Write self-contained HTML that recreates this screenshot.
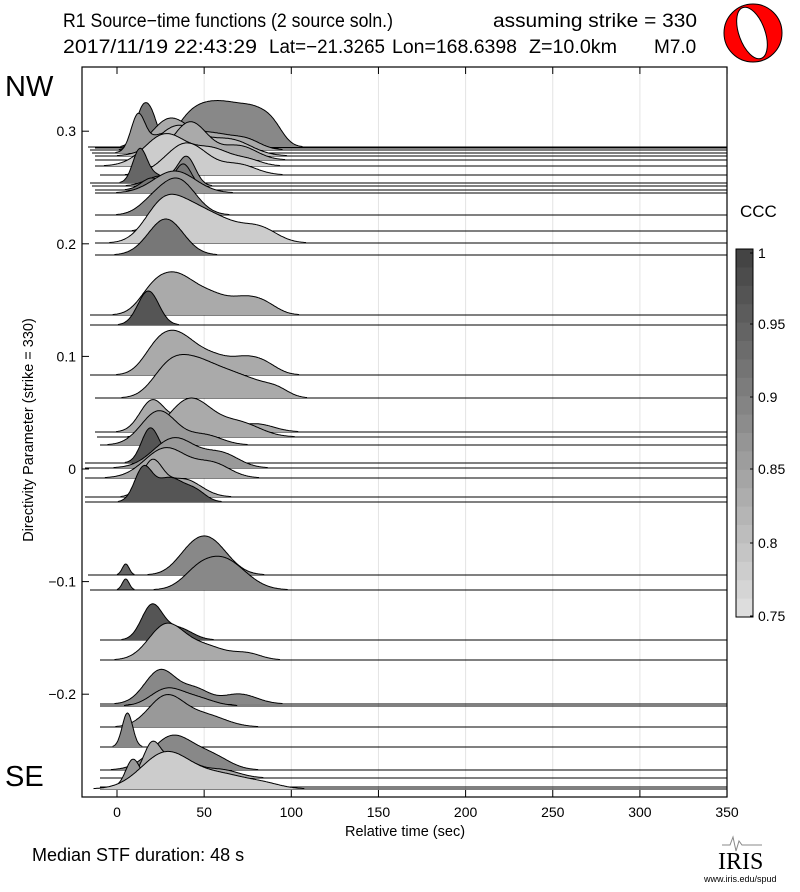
<!DOCTYPE html>
<html><head><meta charset="utf-8"><style>
body{margin:0;background:#fff;width:800px;height:887px;overflow:hidden}
svg{font-family:"Liberation Sans",sans-serif}
</style></head><body>
<svg id="s" width="800" height="887" xmlns="http://www.w3.org/2000/svg">
<g font-size="19">
<text x="63" y="27" textLength="330" lengthAdjust="spacingAndGlyphs">R1 Source−time functions (2 source soln.)</text>
<text x="493" y="27" textLength="204" lengthAdjust="spacingAndGlyphs">assuming strike = 330</text>
<text x="63" y="53" textLength="194" lengthAdjust="spacingAndGlyphs">2017/11/19 22:43:29</text>
<text x="269" y="53" textLength="116" lengthAdjust="spacingAndGlyphs">Lat=−21.3265</text>
<text x="392" y="53" textLength="125" lengthAdjust="spacingAndGlyphs">Lon=168.6398</text>
<text x="529" y="53" textLength="88" lengthAdjust="spacingAndGlyphs">Z=10.0km</text>
<text x="654" y="53">M7.0</text>
</g>
<circle cx="753" cy="33" r="29" fill="#f00" stroke="#000" stroke-width="1"/>
<ellipse cx="752" cy="33" rx="13" ry="27" transform="rotate(-20 752 33)" fill="#fff" stroke="#000" stroke-width="1"/>
<text x="5" y="96" font-size="29">NW</text>
<text x="5" y="786" font-size="29">SE</text>
<g id="grid"></g>
<g id="tr"></g>
<rect x="82" y="67" width="645" height="730" fill="none" stroke="#000" stroke-width="1.2"/>
<g id="ax" font-size="14"></g>
<text x="405" y="836" font-size="14.5" text-anchor="middle">Relative time (sec)</text>
<text transform="translate(33,430) rotate(-90)" font-size="14.5" text-anchor="middle">Directivity Parameter (strike = 330)</text>
<text x="740" y="217" font-size="17">CCC</text>
<g id="cb"></g>
<text x="32" y="861" font-size="18">Median STF duration: 48 s</text>
<text x="718" y="869" font-size="24" font-family="Liberation Serif,serif">IRIS</text>
<path d="M722 845 l8 0 l3 -8 l3 14 l3 -10 l3 4 l20 0" stroke="#888" fill="none" stroke-width="1"/>
<text x="704" y="882" font-size="9">www.iris.edu/spud</text>
</svg>
<script>
const NS="http://www.w3.org/2000/svg";
function el(p,t,a,txt){const e=document.createElementNS(NS,t);for(const k in a)e.setAttribute(k,a[k]);if(txt!==undefined)e.textContent=txt;p.appendChild(e);return e;}
const X=t=>117+t*1.743, Y=v=>469-v*1126;
const g=document.getElementById('grid'),ax=document.getElementById('ax');
for(let t=50;t<=300;t+=50)el(g,'line',{x1:X(t),x2:X(t),y1:67,y2:797,stroke:'#e4e4e4'});
for(let t=0;t<=350;t+=50){el(ax,'line',{x1:X(t),x2:X(t),y1:797,y2:790,stroke:'#000'});el(ax,'line',{x1:X(t),x2:X(t),y1:67,y2:74,stroke:'#000'});el(ax,'text',{x:X(t),y:817,'text-anchor':'middle'},t);}
[[0.3,'0.3'],[0.2,'0.2'],[0.1,'0.1'],[0,'0'],[-0.1,'−0.1'],[-0.2,'−0.2']].forEach(([v,s])=>{el(ax,'line',{x1:82,x2:89,y1:Y(v),y2:Y(v),stroke:'#000'});el(ax,'text',{x:76,y:Y(v)+5,'text-anchor':'end'},s);});
const T=[
[147,'#888',88,[[40,8,20],[52,9,30],[66,9,30],[80,8,28],[90,6,14],[12,4,12]]],
[148,'#777',95,[[14,4,32],[20,4,28]]],
[150,'#aaa',90,[[30,10,30],[55,12,16],[75,8,8]]],
[153,'#999',92,[[12,4,34],[28,10,20]]],
[156,'#bbb',95,[[35,12,30],[65,12,16]]],
[160,'#aaa',95,[[42,10,38],[70,10,14]]],
[166,'#ccc',95,[[28,12,32],[55,10,16],[75,8,6]]],
[175,'#ccc',100,[[40,12,32],[70,10,10]]],
[183,'#666',90,[[13,4,32],[22,6,8]]],
[186,'#888',92,[[40,5,28],[25,8,10]]],
[190,'#777',95,[[38,5,26],[20,6,12]]],
[193,'#999',95,[[33,12,22]]],
[215,'#888',95,[[35,10,35],[20,8,10]]],
[231,'#999',95,[[26,6,28],[40,8,10]]],
[243,'#ccc',95,[[25,10,30],[40,12,30],[60,12,18],[82,10,14]]],
[255,'#777',95,[[28,10,36]]],
[315,'#aaa',90,[[20,8,20],[32,9,28],[45,10,20],[58,8,10],[72,8,13],[84,8,11]]],
[325,'#555',90,[[18,6,34]]],
[375,'#aaa',90,[[22,8,20],[33,9,28],[45,10,18],[58,8,10],[72,8,13],[84,8,11]]],
[398,'#aaa',95,[[28,9,22],[40,10,26],[54,10,22],[66,8,10],[78,9,14],[92,7,8]]],
[432,'#aaa',95,[[20,7,30],[45,12,20],[80,10,8]]],
[437,'#aaa',97,[[42,12,38],[70,12,14]]],
[445,'#999',100,[[24,10,34],[50,10,10]]],
[463,'#555',85,[[19,5,34],[30,6,6]]],
[468,'#999',85,[[33,12,30],[60,10,14]]],
[478,'#aaa',85,[[28,12,30],[55,10,14]]],
[497,'#aaa',85,[[20,6,34],[38,10,18]]],
[502,'#555',85,[[15,5,32],[30,8,24],[45,6,10]]],
[575,'#666',88,[[5,2,11]]],
[575,'#888',88,[[52,11,36],[40,8,8]]],
[590,'#666',90,[[5,2,11]]],
[590,'#888',90,[[60,13,32],[45,8,8]]],
[640,'#555',100,[[20,6,34],[35,8,12]]],
[660,'#aaa',100,[[28,10,34],[50,12,14],[75,8,6]]],
[704,'#888',100,[[25,9,34],[45,8,14],[70,10,10]]],
[706,'#999',100,[[28,9,16],[45,10,8]]],
[727,'#999',100,[[28,10,30],[50,12,12]]],
[747,'#888',100,[[6,3,34]]],
[770,'#888',100,[[32,12,34],[55,10,12]]],
[778,'#aaa',100,[[20,5,30],[35,10,20],[60,10,8]]],
[787,'#999',100,[[9,4,25],[25,10,10]]],
[789,'#ccc',100,[[28,14,36],[60,15,14],[85,10,4]]]
];
const tr=document.getElementById('tr');
T.forEach(([b,c,sx,cs])=>{
 el(tr,'line',{x1:sx,x2:727,y1:b,y2:b,stroke:'#000','stroke-width':1});
 let pts=[];
 for(let t=-15;t<=150;t+=0.5){let h=0;cs.forEach(([m,s,a])=>{h+=a*Math.exp(-0.5*((t-m)/s)**2)});
  if(h>0.4)pts.push([X(t),b-h]);}
 if(!pts.length)return;
 let d='M'+pts[0][0]+' '+b+' '+pts.map(p=>'L'+p[0].toFixed(1)+' '+p[1].toFixed(1)).join(' ')+' L'+pts[pts.length-1][0]+' '+b+'Z';
 el(tr,'path',{d:d,fill:c,stroke:'none'});
 el(tr,'path',{d:'M'+pts.map(p=>p[0].toFixed(1)+' '+p[1].toFixed(1)).join(' L'),fill:'none',stroke:'#000','stroke-width':1});
});
const cb=document.getElementById('cb');
for(let i=0;i<20;i++){const v=i/19;const g=Math.round(0x44+v*(0xdd-0x44));el(cb,'rect',{x:736,y:249+i*18.4,width:17,height:19,fill:`rgb(${g},${g},${g})`});}
el(cb,'rect',{x:736,y:249,width:17,height:368,fill:'none',stroke:'#000'});
[['1',253],['0.95',324],['0.9',397],['0.85',469],['0.8',543],['0.75',616]].forEach(([s,y])=>{el(cb,'text',{x:758,y:y+5,'font-size':14},s);el(cb,'line',{x1:750,x2:753,y1:y,y2:y,stroke:'#000'});});
</script>
</body></html>
